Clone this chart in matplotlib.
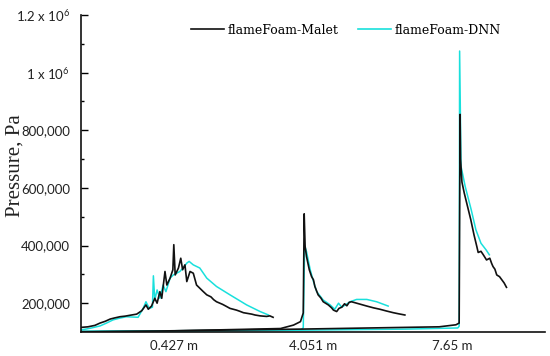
import numpy as np
import matplotlib
matplotlib.use("Agg")
import matplotlib.pyplot as plt

plt.rcParams['mathtext.fontset'] = 'custom'
plt.rcParams['mathtext.rm'] = 'Lato'
plt.rcParams['mathtext.it'] = 'Lato'

# x runs across the three gauges (0.427 m, 4.051 m, 7.65 m), pressure in kPa
malet_1_x = [0.0, 1.5, 3.0, 4.1, 5.2, 6.3, 7.3, 8.4, 9.5, 10.9, 12.0, 13.1, 14.0, 14.5, 15.2, 15.9,
             16.4, 17.0, 17.4, 18.1, 18.5, 19.2, 19.8, 20.0, 20.3, 21.0, 21.5, 21.9, 22.4, 22.8,
             23.5, 24.2, 24.9, 25.6, 26.3, 27.1, 28.0, 28.6, 29.2, 30.5, 31.2, 32.1, 33.5, 34.2,
             35.0, 36.8, 37.5, 38.6, 40.0, 40.7, 41.4]
malet_1_p = [116, 118, 123, 131, 137, 145, 149, 153, 155, 159, 162, 174, 194, 179, 190, 217,
             200, 240, 217, 310, 263, 287, 316, 403, 298, 322, 356, 316, 333, 275,
             310, 304, 263, 252, 241, 229, 222, 212, 205, 196, 190, 182, 176, 172,
             167, 162, 159, 156, 154, 156, 151]

dnn_1_x = [0.0, 2.0, 4.1, 5.5, 6.9, 8.3, 9.8, 11.0, 12.3, 13.4, 14.0, 14.7, 15.4, 15.6, 15.9,
           16.4, 17.0, 17.7, 18.3, 19.2, 19.9, 20.6, 21.3, 22.0, 22.8, 23.3, 24.2, 25.6,
           27.1, 29.2, 32.1, 35.7, 38.6, 40.4]
dnn_1_p = [107, 113, 121, 131, 142, 148, 153, 152, 151, 182, 205, 182, 186, 295, 211,
           246, 217, 263, 240, 287, 298, 304, 310, 322, 339, 345, 333, 322,
           287, 258, 229, 194, 171, 159]

malet_2_x = [0.0, 20.0, 43.0, 45.8, 47.3, 47.9, 48.1, 48.3, 48.6, 49.2, 49.7, 50.1, 50.4, 51.1,
             51.7, 52.2, 52.8, 53.3, 54.0, 54.4, 55.1, 55.6, 56.2, 56.8, 57.3, 57.8, 58.3,
             59.4, 60.5, 61.6, 63.0, 64.4, 65.8, 67.3, 68.5, 69.8]
malet_2_p = [101, 104, 112, 124, 136, 166, 510, 397, 362, 316, 292, 281, 258, 229,
             218, 205, 199, 194, 184, 176, 171, 182, 186, 198, 191, 203, 205,
             200, 195, 190, 184, 179, 173, 167, 163, 159]

dnn_2_x = [0.0, 30.0, 47.5, 47.9, 48.2, 48.6, 49.4, 50.1, 50.8, 52.2, 53.7, 54.7, 55.5, 56.2,
           58.0, 59.4, 61.6, 63.7, 66.2]
dnn_2_p = [103, 105, 108, 115, 400, 379, 316, 275, 240, 211, 194, 179, 200, 186,
           205, 213, 213, 205, 190]

malet_3_x = [0.0, 47.2, 77.2, 80.8, 81.5, 81.7, 81.8, 82.1, 82.6, 83.3, 84.0, 84.7, 85.3, 85.6,
             86.2, 86.7, 87.4, 88.1, 88.5, 88.8, 89.2, 89.6, 90.2, 90.7, 91.2, 91.7]
malet_3_p = [100, 110, 118, 125, 131, 855, 700, 620, 582, 536, 490, 437, 397, 376,
             380, 368, 350, 356, 338, 327, 318, 298, 292, 281, 270, 255]

dnn_3_x = [0.0, 40.0, 70.0, 81.2, 81.5, 81.6, 81.9, 82.8, 84.1, 85.1, 86.2, 87.3, 88.0]
dnn_3_p = [101, 105, 110, 114, 120, 1075, 675, 605, 524, 455, 408, 385, 368]

gauge_pos = [20, 50, 80]
gauge_labels = ['0.427 m', '4.051 m', '7.65 m']

ytick_vals = [200000, 400000, 600000, 800000, 1000000, 1200000]
ytick_labels = ['200,000', '400,000', '600,000', '800,000', '1 x 10$^{6}$', '1.2 x 10$^{6}$']

black = '#111111'
cyan = '#19e0dc'

fig = plt.figure(figsize=(5.5, 3.56), dpi=100)
ax = fig.add_axes([81/550, 1-332/356, 464/550, 317/356])

for xs, ps, c, w in [(dnn_1_x, dnn_1_p, cyan, 1.1), (malet_1_x, malet_1_p, black, 1.2),
                     (dnn_2_x, dnn_2_p, cyan, 1.1), (malet_2_x, malet_2_p, black, 1.2),
                     (dnn_3_x, dnn_3_p, cyan, 1.1), (malet_3_x, malet_3_p, black, 1.2)]:
    ax.plot(xs, np.array(ps)*1000, color=c, lw=w)

# legend proxies
h1, = ax.plot([], [], color=black, lw=1.2, label='flameFoam-Malet')
h2, = ax.plot([], [], color=cyan, lw=1.2, label='flameFoam-DNN')
fig.legend(handles=[h1, h2], loc='center left', bbox_to_anchor=(191/550, 1-30/356),
           ncol=2, frameon=False, handlelength=2.6, handletextpad=0.3,
           columnspacing=1.6, borderpad=0, borderaxespad=0,
           prop={'family': 'DejaVu Serif', 'size': 9})

ax.set_xlim(0, 100)
ax.set_ylim(100000, 1200000)
ax.set_xticks(gauge_pos)
ax.set_xticklabels(gauge_labels, family='Lato', fontsize=9.5, color='#222222')
ax.tick_params(axis='x', length=0, pad=6)
ax.set_yticks(ytick_vals)
ax.set_yticklabels(ytick_labels, family='Lato', fontsize=9.5, color='#222222')
ax.set_yticks(np.arange(300000, 1200000, 200000), minor=True)
ax.tick_params(axis='y', which='major', direction='in', length=5, width=1.0, pad=8)
ax.tick_params(axis='y', which='minor', direction='in', length=2.5, width=1.0)

for s in ['top', 'right']:
    ax.spines[s].set_visible(False)
for s in ['left', 'bottom']:
    ax.spines[s].set_linewidth(1.2)
    ax.spines[s].set_color('#111111')

fig.text(15/550, 1-166/356, 'Pressure, Pa', rotation=90, ha='center', va='center',
         family='Liberation Serif', fontsize=15, color='#222222')

fig.savefig('out.png', dpi=100)
